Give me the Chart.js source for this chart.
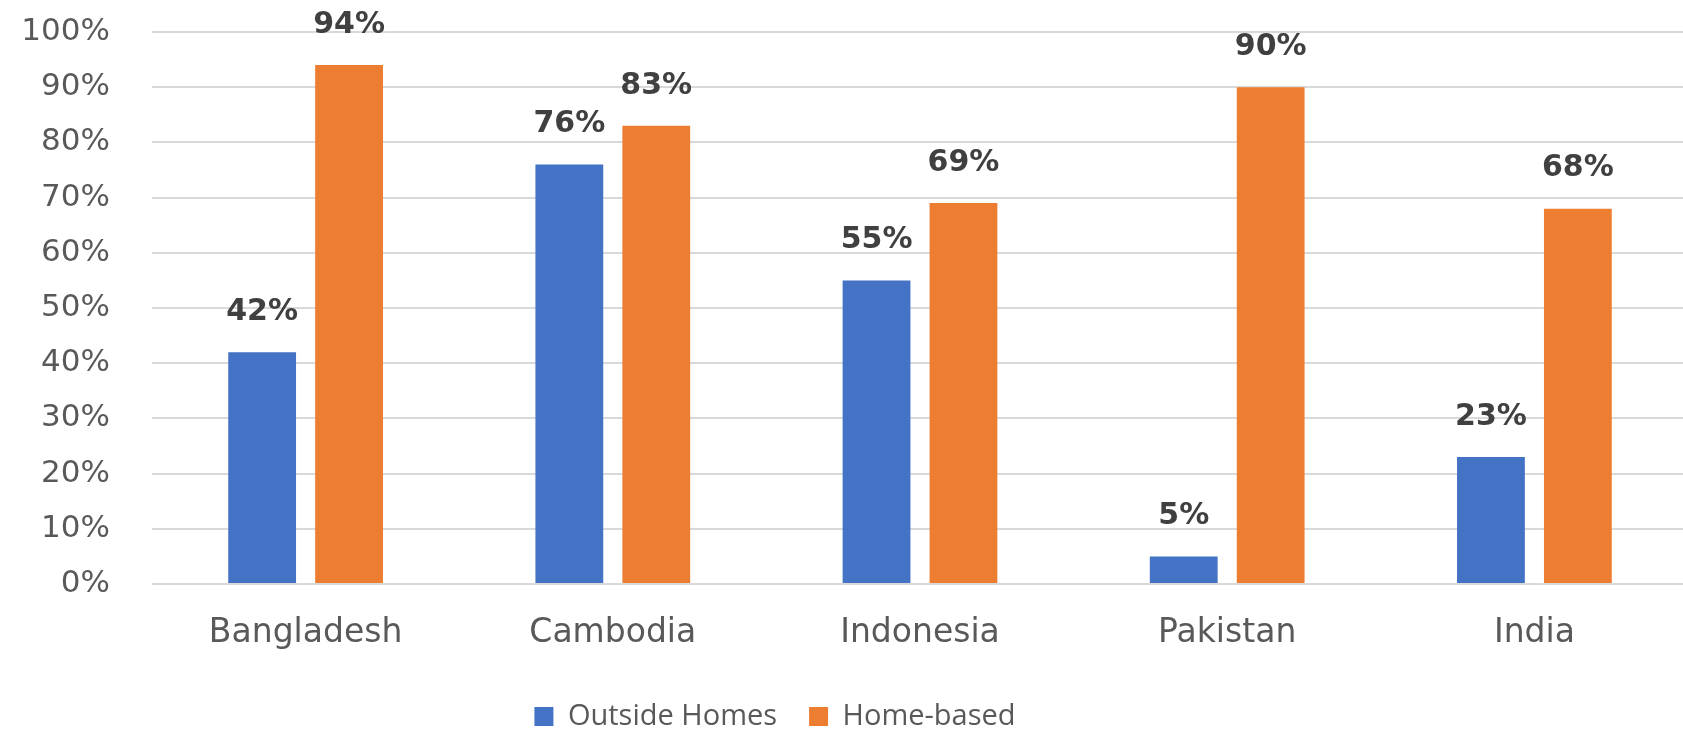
<!DOCTYPE html>
<html>
<head>
<meta charset="utf-8">
<script src="https://cdn.jsdelivr.net/npm/chart.js@4"></script>
<style>
  html, body { margin: 0; padding: 0; background: #fff; overflow: hidden; }
  #wrap { width: 1688px; height: 731px; }
</style>
</head>
<body>
<div id="wrap"><canvas id="grafica"></canvas></div>
<script>
// Data
const countries = ['Bangladesh', 'Cambodia', 'Indonesia', 'Pakistan', 'India'];
const outsideHomes = [42, 76, 55, 5, 23];
const homeBased = [94, 83, 69, 90, 68];
const yTicks = [0, 10, 20, 30, 40, 50, 60, 70, 80, 90, 100];

const BLUE = '#4472C4';
const ORANGE = '#ED7D31';
const GRID = '#d9d9d9';
const TEXT = '#595959';

// Value labels above each bar
const barLabels = {
    id: 'barLabels',
    afterDatasetsDraw(chart) {
        const ctx = chart.ctx;
        ctx.save();
        ctx.font = 'bold 30px "DejaVu Sans"';
        ctx.fillStyle = '#404040';
        ctx.textAlign = 'center';
        ctx.textBaseline = 'middle';
        chart.data.datasets.forEach((ds, i) => {
            chart.getDatasetMeta(i).data.forEach((bar, j) => {
                ctx.fillText(ds.data[j] + '%', bar.x, bar.y - 40);
            });
        });
        ctx.restore();
    }
};

// Put the legend where the original has it (left of centre, near the bottom)
const moveLegend = {
    id: 'moveLegend',
    afterLayout(chart) {
        const lg = chart.legend;
        const dx = 775 - (lg.left + lg.right) / 2;
        lg.left += dx;
        lg.right += dx;
        const h = lg.bottom - lg.top;
        lg.top = 716 - 32 - 14;
        lg.bottom = lg.top + h;
    }
};

const ctx = document.getElementById('grafica').getContext('2d');
new Chart(ctx, {
    type: 'bar',
    data: {
        labels: countries,
        datasets: [
            { label: 'Outside Homes', data: outsideHomes, backgroundColor: BLUE },
            { label: 'Home-based', data: homeBased, backgroundColor: ORANGE }
        ]
    },
    options: {
        responsive: true,
        maintainAspectRatio: false,
        animation: false,
        layout: { padding: { top: 32, left: 0, right: 0, bottom: 0 } },
        datasets: {
            bar: { categoryPercentage: 0.566, barPercentage: 0.78 }
        },
        plugins: {
            tooltip: { enabled: false },
            legend: {
                position: 'bottom',
                labels: {
                    boxWidth: 19,
                    boxHeight: 19,
                    padding: 32,
                    color: TEXT,
                    font: { family: '"Open Sans"', size: 29 }
                }
            }
        },
        scales: {
            x: {
                grid: { display: false },
                border: { display: false },
                ticks: {
                    color: TEXT,
                    padding: 22,
                    font: { family: '"DejaVu Sans"', size: 33 }
                },
                afterFit(scale) {
                    scale.height = 731 - 584 - scale.chart.legend.height;
                }
            },
            y: {
                min: 0,
                max: 100,
                grid: { color: GRID, lineWidth: 2, drawTicks: false },
                border: { display: false },
                afterBuildTicks(scale) {
                    scale.ticks = yTicks.map(v => ({ value: v }));
                },
                ticks: {
                    color: TEXT,
                    padding: 42,
                    font: { family: '"DejaVu Sans"', size: 31 },
                    callback: v => v + '%'
                },
                afterFit(scale) {
                    scale.width = 152;
                    scale.paddingTop = 0;
                    scale.paddingBottom = 0;
                }
            }
        }
    },
    plugins: [barLabels, moveLegend]
});
</script>
</body>
</html>
